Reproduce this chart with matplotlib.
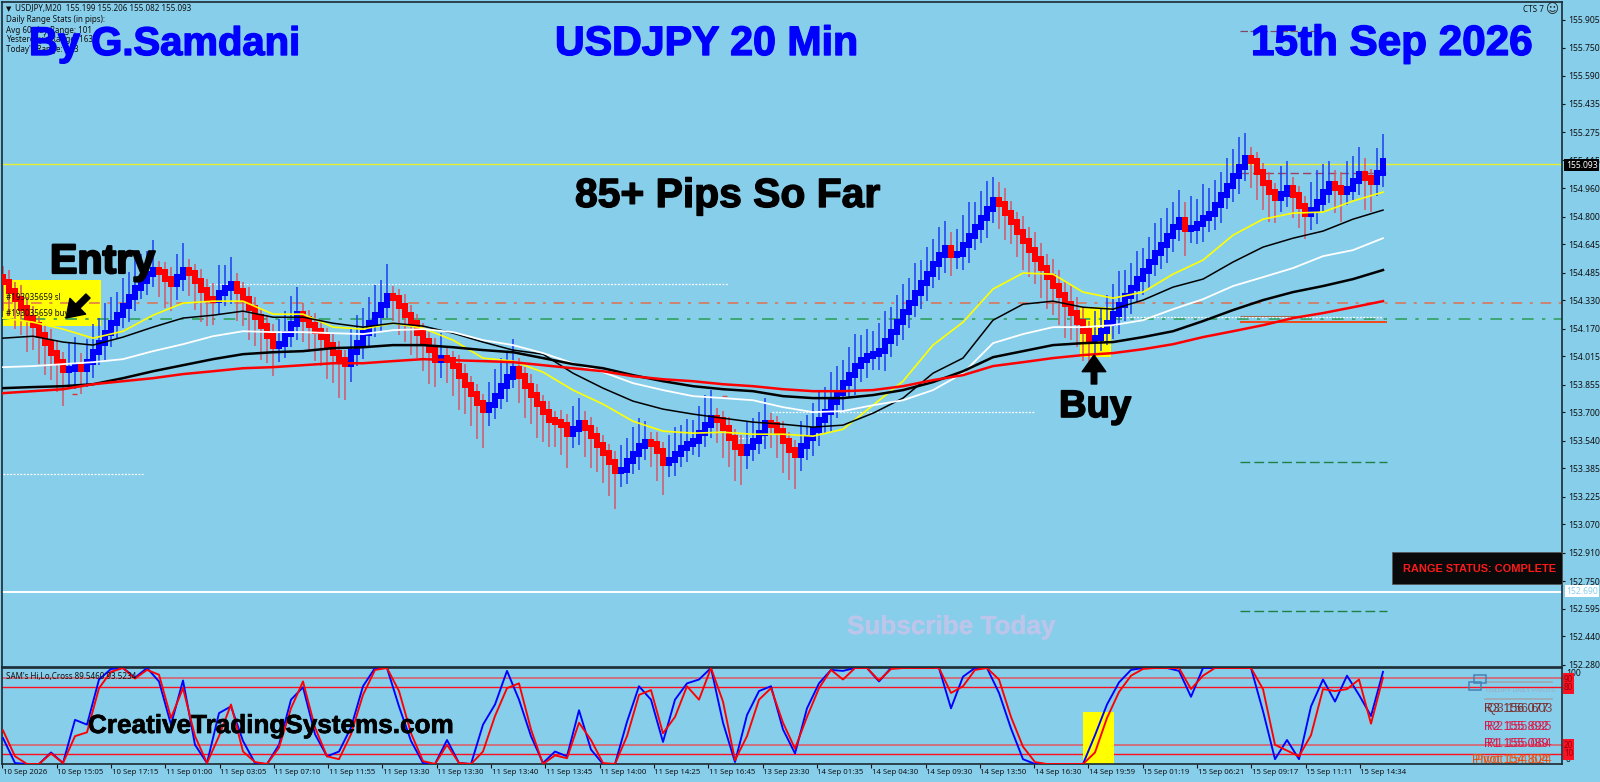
import numpy as np
import matplotlib
matplotlib.use('Agg')
import matplotlib.pyplot as plt
import matplotlib.patheffects as pe
from matplotlib.patches import Rectangle

W, H = 1600, 782
SKY = '#87CEEB'
BAR_PX = 6.0   # chart scale: one bar every 6 px
MA_STEP = 5    # moving averages read every 5 bars
OSC_STEP = 2   # oscillator read every 2 bars

# ---- candles, 20 min closes
closes = [
    154.431,154.380,154.335,154.285,154.229,154.189,154.133,154.088,154.032,153.981,
    153.936,153.942,153.953,153.942,153.981,154.037,154.088,154.144,154.200,154.245,
    154.296,154.347,154.397,154.437,154.476,154.499,154.487,154.448,154.420,154.459,
    154.499,154.482,154.437,154.386,154.335,154.330,154.369,154.397,154.420,154.380,
    154.335,154.285,154.234,154.184,154.127,154.071,154.082,154.139,154.195,154.251,
    154.223,154.189,154.155,154.122,154.077,154.032,153.992,153.970,154.037,154.088,
    154.144,154.200,154.245,154.302,154.352,154.341,154.296,154.245,154.200,154.144,
    154.099,154.049,153.992,154.004,153.992,153.959,153.902,153.852,153.801,153.751,
    153.711,153.739,153.790,153.846,153.897,153.942,153.902,153.846,153.796,153.745,
    153.700,153.655,153.644,153.627,153.576,153.604,153.638,153.610,153.565,153.514,
    153.469,153.419,153.368,153.374,153.424,153.464,153.509,153.531,153.520,153.481,
    153.413,153.430,153.464,153.497,153.520,153.537,153.582,153.627,153.666,153.655,
    153.610,153.554,153.503,153.469,153.503,153.537,153.582,153.638,153.627,153.593,
    153.537,153.486,153.458,153.509,153.554,153.599,153.655,153.700,153.756,153.807,
    153.863,153.908,153.959,153.992,154.015,154.026,154.043,154.099,154.150,154.206,
    154.262,154.313,154.369,154.425,154.476,154.532,154.583,154.622,154.583,154.589,
    154.639,154.690,154.740,154.791,154.842,154.892,154.870,154.819,154.768,154.712,
    154.662,154.611,154.560,154.510,154.459,154.409,154.358,154.307,154.257,154.206,
    154.155,154.105,154.116,154.155,154.200,154.251,154.302,154.352,154.397,154.448,
    154.493,154.544,154.594,154.639,154.690,154.740,154.780,154.729,154.735,154.757,
    154.791,154.813,154.864,154.920,154.971,155.027,155.078,155.128,155.112,155.050,
    154.988,154.937,154.903,154.926,154.960,154.920,154.858,154.813,154.836,154.881,
    154.937,154.982,154.960,154.937,154.954,154.999,155.038,155.016,154.993,155.044,
    155.112]

# wick beyond the body in the bar's own direction / against it, in pips
wick_long = [
    11,9,12,10,14,9,11,13,10,12, 15,10,12,9,8,11,9,12,10,8,
    11,9,12,10,8,12,9,11,10,8, 10,8,11,13,10,9,11,8,10,12,
    10,13,11,14,10,12,9,8,11,10, 8,10,12,11,14,12,16,15,8,11,
    9,10,12,9,13,8,11,10,13,9, 12,14,10,9,8,12,14,11,13,15,
    16,8,10,11,9,12,10,13,11,14, 12,10,9,12,14,8,9,11,13,10,
    12,14,16,9,8,10,11,7,8,12, 13,9,10,8,9,7,10,12,11,8,
    12,11,14,13,9,8,7,9,8,10, 13,12,14,9,8,10,11,9,12,10,
    8,11,13,9,10,8,11,12,9,10, 11,9,12,8,10,9,11,10,7,9,
    12,14,9,10,11,8,9,10,7,9, 11,10,9,12,13,11,12,14,10,9,
    12,9,10,8,11,12,14,10,9,11, 8,9,12,10,11,9,12,10,13,9,
    14,10,9,8,11,10,12,9,10,11, 10,12,9,11,10,8,7,9,11,13,
    11,8,9,12,11,9,10,13,12,9,
    10]
wick_short = [
    3,4,2,5,3,4,2,3,5,4, 3,6,8,5,7,6,4,7,5,6,
    4,6,5,3,5,4,2,3,4,6, 5,3,2,4,3,6,5,4,6,3,
    2,4,3,2,3,4,6,5,4,6, 3,2,4,3,2,3,4,3,7,5,
    6,4,5,6,4,3,2,4,3,2, 3,2,4,7,3,2,3,4,2,3,
    2,6,5,4,6,3,3,2,4,3, 2,3,2,4,3,5,6,4,3,2,
    3,2,3,6,5,4,6,5,3,4, 2,5,6,4,5,3,6,5,4,3,
    2,3,2,4,6,5,4,6,3,2, 3,2,3,6,5,7,6,5,8,6,
    7,5,8,6,7,5,6,8,6,5, 7,6,5,6,7,5,6,7,6,5,
    6,7,5,6,8,5,7,6,4,3, 6,5,7,6,5,7,6,5,7,6,
    5,3,6,4,5,6,8,6,7,5, 6,7,5,6,7,6,5,7,5,6,
    7,5,6,7,5,6,7,5,3,2, 2,3,2,5,4,3,2,3,6,5,
    2,3,5,6,4,3,5,6,2,5,
    5]

# ---- moving averages, one value every 5 bars
ma_red = [
    153.807,153.818,153.829,153.857,153.874,153.891,153.914,153.930,153.947,153.953,
    153.964,153.975,153.975,153.987,153.998,153.992,153.987,153.981,153.964,153.947,
    153.930,153.902,153.885,153.874,153.857,153.846,153.829,153.818,153.818,153.824,
    153.846,153.880,153.908,153.959,153.981,154.004,154.021,154.032,154.054,154.082,
    154.122,154.155,154.189,154.229,154.257,154.290,154.324]
ma_black_thick = [
    153.835,153.841,153.846,153.857,153.891,153.930,153.964,153.998,154.026,154.037,
    154.043,154.060,154.065,154.077,154.077,154.065,154.049,154.037,154.004,153.970,
    153.947,153.908,153.874,153.846,153.829,153.818,153.790,153.779,153.779,153.796,
    153.824,153.869,153.930,154.009,154.043,154.077,154.088,154.094,154.122,154.155,
    154.212,154.274,154.330,154.375,154.409,154.448,154.499]
ma_white = [
    153.953,153.959,153.970,153.981,153.998,154.043,154.082,154.127,154.155,154.150,
    154.150,154.144,154.139,154.161,154.167,154.150,154.105,154.077,154.032,153.975,
    153.925,153.863,153.824,153.790,153.779,153.767,153.728,153.700,153.706,153.739,
    153.767,153.824,153.919,154.088,154.139,154.178,154.178,154.189,154.217,154.279,
    154.335,154.409,154.459,154.510,154.577,154.611,154.678]
ma_black_thin = [
    154.116,154.127,154.094,154.077,154.122,154.178,154.229,154.245,154.268,154.234,
    154.234,154.200,154.178,154.200,154.184,154.144,154.094,154.049,154.026,153.919,
    153.835,153.762,153.717,153.689,153.666,153.644,153.632,153.616,153.627,153.694,
    153.779,153.919,154.004,154.217,154.307,154.324,154.290,154.279,154.330,154.403,
    154.448,154.544,154.628,154.678,154.718,154.785,154.836]
ma_yellow = [
    154.229,154.206,154.167,154.116,154.155,154.245,154.313,154.324,154.324,154.251,
    154.251,154.178,154.167,154.200,154.172,154.105,154.004,153.987,153.925,153.824,
    153.745,153.649,153.593,153.582,153.587,153.576,153.576,153.565,153.604,153.739,
    153.874,154.077,154.206,154.392,154.482,154.476,154.375,154.341,154.375,154.476,
    154.555,154.695,154.785,154.819,154.825,154.887,154.937]

# ---- oscillator, one value every 2 bars
osc_blue = [
    27,1,0,0,12,1,46,41,88,99,
    100,90,100,86,41,87,20,1,53,60,
    24,1,0,20,67,80,31,8,13,38,
    81,100,100,60,24,1,0,25,1,0,
    41,62,97,67,29,1,13,8,56,15,
    0,0,44,81,67,23,67,84,88,100,
    43,2,51,76,81,36,11,58,84,98,
    97,100,100,86,100,100,100,100,100,58,
    91,100,100,74,37,5,0,0,0,0,
    0,30,62,85,98,100,100,100,97,70,
    100,100,100,100,100,55,5,25,5,60,
    88,65,92,72,50,96]
osc_red = [
    35,8,0,0,11,1,29,33,79,96,
    100,89,98,93,48,79,29,1,29,62,
    13,2,0,17,58,86,38,8,5,31,
    72,98,100,76,32,3,0,20,1,0,
    13,50,79,84,36,0,9,6,43,25,
    1,0,29,72,77,32,49,81,67,100,
    65,4,29,67,79,43,16,49,79,98,
    88,100,100,87,99,100,100,100,100,74,
    81,98,100,88,49,18,2,0,0,0,
    0,12,48,75,92,99,100,100,100,78,
    92,100,100,100,100,78,20,14,8,30,
    78,76,78,88,42,90]
osc_levels = [90, 80, 20, 10]

# ---- axis text
price_ticks = [155.905,155.750,155.590,155.435,155.275,155.115,154.960,154.800,154.645,154.485,
               154.330,154.170,154.015,153.855,153.700,153.540,153.385,153.225,153.070,152.910,
               152.750,152.595,152.440,152.280]
time_labels = ['10 Sep 2026','10 Sep 15:05','10 Sep 17:15','11 Sep 01:00','11 Sep 03:05','11 Sep 07:10',
               '11 Sep 11:55','11 Sep 13:30','11 Sep 13:30','11 Sep 13:40','11 Sep 13:45','11 Sep 14:00',
               '11 Sep 14:25','11 Sep 16:45','13 Sep 23:30','14 Sep 01:35','14 Sep 04:30','14 Sep 09:30',
               '14 Sep 13:50','14 Sep 16:30','14 Sep 19:59','15 Sep 01:19','15 Sep 06:21','15 Sep 09:17',
               '15 Sep 11:11','15 Sep 14:34']
stats_lines = ['Daily Range Stats (in pips):','Avg 60-day Range: 101',"Yesterday's Range: 163","Today's Range: 103"]

last_price = 155.093
range_low = 152.690
sl_level = 154.313
buy_level = 154.223


def bar_at(px):
    return (px - 3) / BAR_PX


def fig_text(px, py, s, **kw):
    kw.setdefault('va', 'center')
    return fig.text(px / W, 1 - py / H, s, **kw)


def fig_axes(left, top, right, bottom):
    return fig.add_axes([left / W, 1 - bottom / H, (right - left) / W, (bottom - top) / H])


fig = plt.figure(figsize=(W / 100, H / 100), dpi=100, facecolor=SKY)
ax = fig_axes(2, 2, 1562, 666.5)
ax2 = fig_axes(2, 668, 1562, 764)
xlim = (bar_at(2), bar_at(1562))

for a in (ax, ax2):
    a.set_facecolor(SKY)
    a.set_xlim(xlim)
    for s in a.spines.values():
        s.set_color('#1a2a33')
        s.set_linewidth(1.2)

ax.set_ylim(152.270, 156.006)
ax.yaxis.tick_right()
ax.set_yticks(price_ticks)
ax.set_yticklabels(['%.3f' % p for p in price_ticks], fontsize=6.2, family='Noto Sans', color='#111111')
ax.tick_params(axis='y', length=2.5, width=0.8, pad=2, color='#111111')
ax.set_xticks([])

# highlight boxes
ax.add_patch(Rectangle((bar_at(3), 154.184), bar_at(101) - bar_at(3), 0.260, color='#ffff00', lw=0, zorder=1))
ax.add_patch(Rectangle((bar_at(1080), 154.009), bar_at(1111) - bar_at(1080), 0.281, color='#ffff00', lw=0, zorder=1))

# horizontal levels
ax.axhline(last_price, color='#e8ee30', lw=1.0, zorder=1.5)
ax.axhline(range_low, color='white', lw=1.4, zorder=1.5)
ax.axhline(sl_level, color='#e0704f', lw=1.1, ls=(0, (7, 5, 2, 5)), zorder=1.5)
ax.axhline(buy_level, color='#2fa05f', lw=1.2, ls=(0, (7, 5, 2, 5)), zorder=1.5)
dots = dict(color='white', lw=0.9, ls=(0, (1.5, 1.2)), zorder=1.5)
ax.hlines(154.420, bar_at(209), bar_at(728), **dots)
ax.hlines(153.700, bar_at(772), bar_at(1035), **dots)
ax.hlines(153.350, bar_at(3), bar_at(143), **dots)
ax.hlines(154.234, bar_at(1113), bar_at(1383), **dots)
ax.hlines(153.555, bar_at(735), bar_at(763), **dots)
ax.hlines(155.843, bar_at(1240), bar_at(1316), color='#7a4a66', lw=0.9, ls=(0, (6, 2)), zorder=1.5)
ax.hlines(155.044, bar_at(1240), bar_at(1387), color='#a04060', lw=1.0, ls=(0, (6, 3)), zorder=1.5)
ax.hlines(154.206, bar_at(1240), bar_at(1387), color='#f04a18', lw=1.4, zorder=1.5)
ax.hlines(154.240, bar_at(1240), bar_at(1300), color='#a86a50', lw=0.8, zorder=1.5)
for lv in (153.419, 152.580):
    ax.hlines(lv, bar_at(1240), bar_at(1387), color='#1f7f45', lw=1.0, ls=(0, (7, 3)), zorder=1.5)
ax.hlines(153.800, bar_at(72), bar_at(77), color='#e03030', lw=1.0, zorder=1.5)
ax.hlines(153.790, bar_at(722), bar_at(727), color='#d85050', lw=1.0, zorder=1.5)

# candles; bodies overlap so the runs read as one thick ribbon, as on the source chart
c = np.array(closes)
o = np.r_[c[0] + 0.03, c[:-1]]
long_w = np.array(wick_long) * 0.01 + 0.05
short_w = np.array(wick_short) * 0.01 + 0.03
idx = np.arange(len(c))
up = c > o
top = np.maximum(o, c) + np.where(up, long_w, short_w)
low = np.minimum(o, c) - np.where(up, short_w, long_w)
ax.vlines(idx[up], low[up], top[up], color='#1c3ef2', lw=1.1, zorder=2)
ax.vlines(idx[~up], low[~up], top[~up], color='#d2566a', lw=1.1, zorder=2)
pad = 0.016
ax.bar(idx[up], (c - o)[up] + 2 * pad, bottom=o[up] - pad, width=0.92, color='#0000ff', lw=0, zorder=3)
ax.bar(idx[~up], (o - c)[~up] + 2 * pad, bottom=c[~up] - pad, width=0.92, color='#ff0000', lw=0, zorder=3)

# moving averages
ma_x = np.arange(len(ma_red)) * MA_STEP
ax.plot(ma_x, ma_yellow, color='#ffff00', lw=1.2, zorder=4)
ax.plot(ma_x, ma_black_thin, color='black', lw=1.1, zorder=4.1)
ax.plot(ma_x, ma_white, color='white', lw=1.3, zorder=4.2)
ax.plot(ma_x, ma_black_thick, color='black', lw=1.8, zorder=4.3)
ax.plot(ma_x, ma_red, color='#ff0000', lw=1.8, zorder=4.4)

# lower pane
ax2.set_ylim(0, 100)
ax2.yaxis.tick_right()
ax2.set_yticks([])
for lv in osc_levels:
    strong = lv in (80, 10)
    ax2.axhline(lv, color='#ff1020' if strong else '#d8606e', lw=1.0 if strong else 1.2, zorder=1)
ax2.add_patch(Rectangle((bar_at(1083), 0), bar_at(1114) - bar_at(1083), 54, color='#ffff00', lw=0, zorder=1.5))
osc_x = np.arange(len(osc_blue)) * OSC_STEP
ax2.plot(osc_x, osc_blue, color='#0000ff', lw=1.35, zorder=3)
ax2.plot(osc_x, osc_red, color='#ff0000', lw=1.35, zorder=3.1)

tick_step = 54.3 / BAR_PX
ax2.set_xticks(bar_at(2.4) + np.arange(len(time_labels)) * tick_step)
ax2.set_xticklabels([])
ax2.tick_params(axis='x', length=3, width=0.8, color='#111111')
for i, lab in enumerate(time_labels):
    fig_text(2.4 + i * 54.3 + 0.5, 772.5, lab, ha='left', fontsize=5.6, family='Noto Sans', color='#111111')

# right hand tags
tag = dict(ha='left', fontsize=6.2, family='Noto Sans')
fig_text(1566, 165, '155.093', color='white', bbox=dict(fc='black', ec='none', pad=1.2), **tag)
fig_text(1566, 591, '152.690', color=SKY, bbox=dict(fc='white', ec='none', pad=1.0), **tag)
fig_text(1566, 674, '100', color='#111111', **tag)
fig_text(1566, 759, '0', color='#111111', **tag)
for lab, py in [('90', 679), ('80', 688), ('20', 745), ('10', 754)]:
    fig_text(1564, py, lab, color='#8a0010', ha='left', fontsize=5.8, family='Noto Sans',
             bbox=dict(fc='#ff1020', ec='none', pad=0.8))

# header text
small = dict(ha='left', fontsize=5.8, family='Noto Sans', color='#111111')
fig_text(6, 9, '\u25bc', ha='left', fontsize=5, color='#111111')
fig_text(15, 9, 'USDJPY,M20  155.199 155.206 155.082 155.093', **small)
for py, line in zip((20, 30.5, 40, 50), stats_lines):
    fig_text(6, py, line, **small)
fig_text(1523, 10, 'CTS 7', **small)
fig_text(1546, 10, '\u263a', ha='left', fontsize=9, color='#222222')
fig_text(6, 676, "SAM's Hi,Lo,Cross 89.5460 93.5234", **small)
fig_text(6, 298, '#193035659 sl', **small)
fig_text(6, 314, '#193035659 buy', **small)

# big titles
big = dict(family='Liberation Sans', fontweight='bold', va='baseline', ha='left')


def title(px, py, s, col, size, stroke=1.0):
    t = fig_text(px, py, s, color=col, fontsize=size, **big)
    t.set_path_effects([pe.withStroke(linewidth=stroke, foreground=col)])


title(29, 55, 'By G.Samdani', '#0000ff', 28.8)
title(555, 55, 'USDJPY 20 Min', '#0000ff', 29.6)
title(1251, 55, '15th Sep 2026', '#0000ff', 30.4)
title(575, 207, '85+ Pips So Far', 'black', 29.4)
title(50, 273, 'Entry', 'black', 29.6, 1.6)
title(1059, 417, 'Buy', 'black', 27.5, 1.2)
title(88, 733, 'CreativeTradingSystems.com', 'black', 18.8, 0.5)
title(847, 634, 'Subscribe Today', '#bcc6ea', 18.8, 0.3)

# range status box
fig.add_artist(Rectangle((1392 / W, 1 - 584 / H), 170 / W, 32 / H, transform=fig.transFigure,
                         fc='#0a0a0a', ec='#555555', lw=0.6, zorder=5))
fig_text(1403, 569, 'RANGE STATUS: COMPLETE', color='#ff1a1a', fontsize=7.9, ha='left', fontweight='bold',
         family='Liberation Sans', zorder=6)

# pivot panel (two copies of the indicator overlap in the source)
piv = dict(family='Liberation Sans', fontsize=9.0, ha='left')
rows = [(709, '#7a2a2a', 'R3 156.077', 'Q3 156.603'),
        (727, '#d81848', 'R2 155.892', 'R2 155.635'),
        (744, '#d81848', 'R1 155.089', 'R1 155.064'),
        (760, '#f04c08', 'Pivot 154.804', 'Pivot 154.624')]
for py, col, t1, t2 in rows:
    px = 1472 if t1.startswith('Pivot') else 1484
    fig_text(px, py, t1, color=col, **piv)
    fig_text(px + 3, py, t2, color=col, alpha=0.85, **piv)
for py in (682, 699):
    fig.add_artist(plt.Line2D([1485 / W, 1552 / W], [1 - py / H] * 2, color='#9da8b0', lw=1.2))
fig_text(1486, 690, 'USDJPY DAILY PIVOTS', color='#9aa8b8', fontsize=4.6, ha='left', family='Liberation Sans')
for left, top_px in ((1469, 682), (1474, 675)):
    fig.add_artist(Rectangle((left / W, 1 - (top_px + 8) / H), 12 / W, 8 / H, transform=fig.transFigure,
                             fc='none', ec='#4682b4', lw=1.1, zorder=5))

# arrows on the entry and the buy candle
ax.annotate('', xy=(66 / W, 1 - 318 / H), xytext=(88 / W, 1 - 296 / H),
            xycoords='figure fraction', textcoords='figure fraction', zorder=7,
            arrowprops=dict(facecolor='black', edgecolor='black', width=4.2, headwidth=16, headlength=12, shrink=0))
ax.annotate('', xy=(1094 / W, 1 - 355 / H), xytext=(1094 / W, 1 - 384 / H),
            xycoords='figure fraction', textcoords='figure fraction', zorder=7,
            arrowprops=dict(facecolor='black', edgecolor='black', width=4.0, headwidth=17, headlength=12, shrink=0))

fig.savefig('out.png', dpi=100, facecolor=SKY)
